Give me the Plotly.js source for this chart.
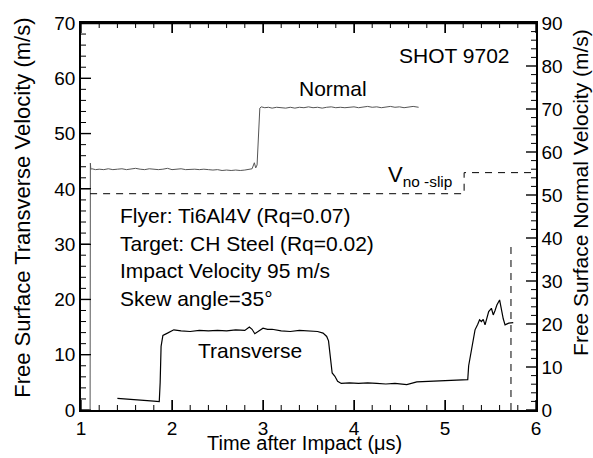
<!DOCTYPE html>
<html>
<head>
<meta charset="utf-8">
<script src="https://cdn.plot.ly/plotly-3.0.1.min.js"></script>
<style>html,body{margin:0;padding:0;background:#fff;}#chart{width:593px;height:458px;}</style>
</head>
<body>
<div id="chart"></div>
<script>
// Normal free-surface velocity (right axis, m/s)
const normalTime = [1.100, 1.103, 1.108, 1.12, 1.16, 1.2, 1.25, 1.3, 1.35, 1.4, 1.45, 1.5, 1.55, 1.6, 1.65, 1.7, 1.75, 1.8, 1.85, 1.9, 1.95, 2.0, 2.05, 2.1, 2.15, 2.2, 2.25, 2.3, 2.35, 2.4, 2.45, 2.5, 2.55, 2.6, 2.65, 2.7, 2.75, 2.8, 2.85, 2.88, 2.905, 2.92, 2.935, 2.965, 2.98, 3.02, 3.06, 3.1, 3.15, 3.2, 3.25, 3.3, 3.35, 3.4, 3.45, 3.5, 3.55, 3.6, 3.65, 3.7, 3.75, 3.8, 3.85, 3.9, 3.95, 4.0, 4.05, 4.1, 4.15, 4.2, 4.25, 4.3, 4.35, 4.4, 4.45, 4.5, 4.55, 4.6, 4.65, 4.71];
const normalVel  = [0, 57.4, 56.0, 56.1, 55.9, 56.0, 55.9, 56.1, 55.9, 56.0, 56.1, 55.9, 56.0, 56.2, 56.0, 55.9, 56.1, 56.0, 55.9, 56.0, 56.2, 55.9, 56.0, 56.1, 55.9, 56.0, 56.0, 55.9, 56.0, 55.9, 55.8, 55.9, 55.7, 55.8, 55.7, 55.8, 55.7, 55.8, 55.9, 56.1, 57.5, 56.3, 57.0, 70.2, 70.5, 70.3, 70.4, 70.2, 70.4, 70.3, 70.2, 70.4, 70.2, 70.4, 70.3, 70.5, 70.3, 70.4, 70.2, 70.4, 70.5, 70.3, 70.4, 70.3, 70.4, 70.5, 70.3, 70.5, 70.6, 70.4, 70.5, 70.3, 70.5, 70.6, 70.4, 70.5, 70.3, 70.5, 70.6, 70.4];

// Transverse free-surface velocity (left axis, m/s)
const transTime = [1.40, 1.5, 1.6, 1.7, 1.8, 1.86, 1.87, 1.88, 1.90, 1.95, 2.02, 2.1, 2.2, 2.3, 2.4, 2.5, 2.6, 2.7, 2.8, 2.85, 2.88, 2.91, 2.95, 3.0, 3.05, 3.1, 3.2, 3.3, 3.4, 3.5, 3.6, 3.66, 3.70, 3.72, 3.74, 3.76, 3.79, 3.82, 3.86, 3.95, 4.05, 4.15, 4.25, 4.35, 4.45, 4.58, 4.69, 4.8, 4.9, 5.0, 5.1, 5.2, 5.25, 5.26, 5.29, 5.31, 5.33, 5.36, 5.38, 5.40, 5.42, 5.44, 5.46, 5.48, 5.51, 5.53, 5.55, 5.57, 5.60, 5.62, 5.64, 5.66, 5.70, 5.75];
const transVel  = [2.1, 2.0, 1.9, 1.8, 1.6, 1.5, 5.0, 11.5, 13.5, 13.9, 14.5, 14.3, 14.2, 14.4, 14.3, 14.4, 14.3, 14.5, 14.4, 15.0, 14.6, 13.8, 14.3, 14.8, 14.6, 14.6, 14.3, 14.2, 14.4, 14.3, 14.2, 13.9, 13.3, 12.5, 9.0, 6.7, 6.1, 5.2, 4.8, 4.9, 4.8, 4.9, 4.8, 4.7, 4.8, 4.6, 5.1, 5.2, 5.3, 5.4, 5.5, 5.5, 5.5, 8.0, 10.9, 13.0, 14.5, 15.5, 16.3, 16.0, 16.4, 15.4, 16.5, 17.8, 18.4, 17.2, 18.0, 19.0, 19.9, 18.1, 16.5, 15.4, 15.7, 15.8];

// No-slip velocity (right axis, dashed)
const noSlipTime = [1.10, 5.21, 5.21, 6.0];
const noSlipVel  = [50.3, 50.3, 55.2, 55.2];

// Vertical dashed marker (right axis)
const markerTime = [5.725, 5.725];
const markerVel  = [0, 38.0];

// Tick values (labels)
const xTickVals = [1, 2, 3, 4, 5, 6];
const yLeftTickVals = [0, 10, 20, 30, 40, 50, 60, 70];
const yRightTickVals = [0, 10, 20, 30, 40, 50, 60, 70, 80, 90];
const xMinorPerMajor = 5, yMinorPerMajor = 5;

const FONT = 'Liberation Sans, Arial, Helvetica, sans-serif';
const W = 593, H = 458, M = {l: 81, r: 57, t: 23, b: 48};
const plotW = W - M.l - M.r, plotH = H - M.t - M.b;
const xR = [xTickVals[0], xTickVals[xTickVals.length - 1]];
const yR = [yLeftTickVals[0], yLeftTickVals[yLeftTickVals.length - 1]];
const y2R = [yRightTickVals[0], yRightTickVals[yRightTickVals.length - 1]];

function subdivide(vals, n) {
  const out = [];
  for (let i = 0; i < vals.length - 1; i++) {
    const step = (vals[i + 1] - vals[i]) / n;
    for (let k = 1; k < n; k++) out.push(vals[i] + k * step);
  }
  return out;
}
// inward tick marks built from the tick arrays; pixel lengths converted through the axis scales
const MAJ = 10, MIN = 5;
const dxPx = (xR[1] - xR[0]) / plotW, dyPx = (yR[1] - yR[0]) / plotH;
function xTickSeg(vals, len) {
  const x = [], y = [];
  vals.forEach(v => {
    x.push(v, v, null, v, v, null);
    y.push(yR[0], yR[0] + len * dyPx, null, yR[1], yR[1] - len * dyPx, null);
  });
  return {x, y};
}
function yTickSeg(vals, len, atRight) {
  const x = [], y = [];
  vals.forEach(v => {
    if (atRight) x.push(xR[1], xR[1] - len * dxPx, null); else x.push(xR[0], xR[0] + len * dxPx, null);
    y.push(v, v, null);
  });
  return {x, y};
}
const tickTraces = [];
function addTicks(seg, axis, w) {
  tickTraces.push({x: seg.x, y: seg.y, yaxis: axis, mode: 'lines', line: {color: '#000', width: w}, showlegend: false, hoverinfo: 'skip'});
}
addTicks(xTickSeg(xTickVals, MAJ), 'y', 1.4);
addTicks(xTickSeg(subdivide(xTickVals, xMinorPerMajor), MIN), 'y', 1);
addTicks(yTickSeg(yLeftTickVals, MAJ, false), 'y', 1.4);
addTicks(yTickSeg(subdivide(yLeftTickVals, yMinorPerMajor), MIN, false), 'y', 1);
addTicks(yTickSeg(yRightTickVals, MAJ, true), 'y2', 1.4);
addTicks(yTickSeg(subdivide(yRightTickVals, yMinorPerMajor), MIN, true), 'y2', 1);
// top edge of the frame
tickTraces.push({x: [xR[0], xR[1]], y: [yR[1], yR[1]], yaxis: 'y', mode: 'lines', line: {color: '#000', width: 2.5}, showlegend: false, hoverinfo: 'skip'});

const traces = [
  {x: normalTime, y: normalVel, yaxis: 'y2', mode: 'lines', line: {color: '#555555', width: 1}, showlegend: false, hoverinfo: 'skip'},
  {x: transTime, y: transVel, yaxis: 'y', mode: 'lines', line: {color: '#000000', width: 1.2}, showlegend: false, hoverinfo: 'skip'},
  {x: noSlipTime, y: noSlipVel, yaxis: 'y2', mode: 'lines', line: {color: '#000000', width: 1, dash: '7px,6px'}, showlegend: false, hoverinfo: 'skip'},
  {x: markerTime, y: markerVel, yaxis: 'y2', mode: 'lines', line: {color: '#000000', width: 1, dash: '7px,6px'}, showlegend: false, hoverinfo: 'skip'}
].concat(tickTraces);

const annFont = {family: FONT, size: 21, color: '#000'};
const tickFont = {family: FONT, size: 19, color: '#000'};

const layout = {
  width: W, height: H,
  margin: {l: M.l, r: M.r, t: M.t, b: M.b},
  paper_bgcolor: '#fff', plot_bgcolor: '#fff',
  font: {family: FONT, color: '#000'},
  showlegend: false,
  xaxis: {
    range: xR, tick0: xTickVals[0], dtick: xTickVals[1] - xTickVals[0],
    showgrid: false, zeroline: false, showline: true, linecolor: '#000', linewidth: 1.5,
    mirror: 'ticks', ticks: 'inside', ticklen: MAJ, tickcolor: '#000',
    tickfont: tickFont
  },
  yaxis: {
    range: yR, tick0: yLeftTickVals[0], dtick: yLeftTickVals[1] - yLeftTickVals[0],
    showgrid: false, zeroline: false, showline: true, linecolor: '#000', linewidth: 1.5,
    ticks: 'inside', ticklen: MAJ, tickcolor: '#000',
    tickfont: tickFont
  },
  yaxis2: {
    range: y2R, tick0: yRightTickVals[0], dtick: yRightTickVals[1] - yRightTickVals[0],
    overlaying: 'y', side: 'right',
    showgrid: false, zeroline: false, showline: true, linecolor: '#000', linewidth: 1.5,
    ticks: '', tickfont: tickFont
  },
  annotations: [
    {x: 0.492, y: -0.0865, xref: 'paper', yref: 'paper', text: 'Time after Impact (μs)', showarrow: false, xanchor: 'center', yanchor: 'middle', font: {family: FONT, size: 20, color: '#000'}},
    {x: -0.1275, y: 0.5226, xref: 'paper', yref: 'paper', text: 'Free Surface Transverse Velocity (m/s)', textangle: -90, showarrow: false, xanchor: 'center', yanchor: 'middle', font: {family: FONT, size: 22, color: '#000'}},
    {x: 1.099, y: 0.561, xref: 'paper', yref: 'paper', text: 'Free Surface Normal Velocity (m/s)', textangle: -90, showarrow: false, xanchor: 'center', yanchor: 'middle', font: {family: FONT, size: 21, color: '#000'}},
    {x: 5.736, y: 64.2, xref: 'x', yref: 'y', text: 'SHOT 9702', showarrow: false, xanchor: 'right', yanchor: 'middle', font: annFont},
    {x: 3.77, y: 58.2, xref: 'x', yref: 'y', text: 'Normal', showarrow: false, xanchor: 'center', yanchor: 'middle', font: annFont},
    {x: 4.35, y: 42.3, xref: 'x', yref: 'y', text: 'V<sub>no -slip</sub>', showarrow: false, xanchor: 'left', yanchor: 'middle', font: {family: FONT, size: 22, color: '#000'}},
    {x: 1.41, y: 35.2, xref: 'x', yref: 'y', text: 'Flyer: Ti6Al4V (Rq=0.07)', showarrow: false, xanchor: 'left', yanchor: 'middle', font: annFont},
    {x: 1.41, y: 30.2, xref: 'x', yref: 'y', text: 'Target: CH Steel (Rq=0.02)', showarrow: false, xanchor: 'left', yanchor: 'middle', font: annFont},
    {x: 1.41, y: 25.2, xref: 'x', yref: 'y', text: 'Impact Velocity 95 m/s', showarrow: false, xanchor: 'left', yanchor: 'middle', font: annFont},
    {x: 1.41, y: 20.1, xref: 'x', yref: 'y', text: 'Skew angle=35°', showarrow: false, xanchor: 'left', yanchor: 'middle', font: annFont},
    {x: 2.857, y: 10.8, xref: 'x', yref: 'y', text: 'Transverse', showarrow: false, xanchor: 'center', yanchor: 'middle', font: annFont}
  ]
};

Plotly.newPlot('chart', traces, layout, {displayModeBar: false});
</script>
</body>
</html>
